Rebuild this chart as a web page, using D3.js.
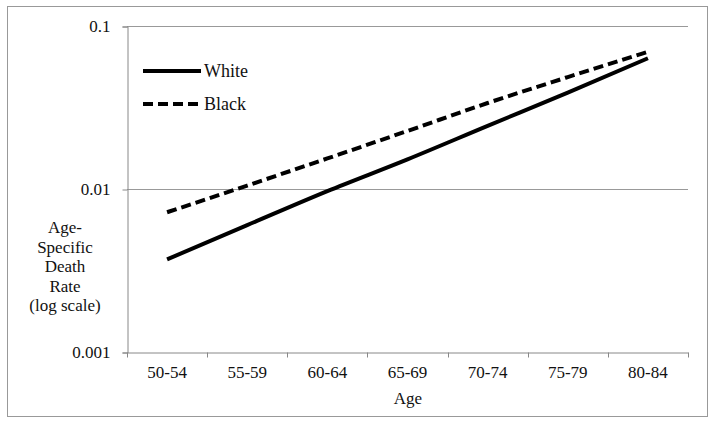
<!DOCTYPE html>
<html>
<head>
<meta charset="utf-8">
<script src="https://cdn.jsdelivr.net/npm/d3@7"></script>
<style>
  body { margin: 0; background: #fff; }
  svg text { font-family: "Liberation Serif", serif; }
</style>
</head>
<body>
<svg id="chart" width="714" height="425"></svg>
<script>
var ages = ["50-54", "55-59", "60-64", "65-69", "70-74", "75-79", "80-84"];
var white = [0.0037, 0.0060, 0.0097, 0.0152, 0.0244, 0.0390, 0.0634];
var black = [0.0072, 0.0105, 0.0154, 0.0227, 0.0337, 0.0486, 0.0695];
var yTicks = [0.001, 0.01, 0.1];
var yTitle = ["Age-", "Specific", "Death", "Rate", "(log scale)"];

var FONT = "Liberation Serif";
var DASH = "10,5";
var svg = d3.select("#chart").attr("font-family", FONT);

svg.append("rect")
    .attr("x", 7.5).attr("y", 6.5)
    .attr("width", 700).attr("height", 410)
    .attr("fill", "none")
    .attr("stroke", "#999");

var x = d3.scaleBand().domain(ages).range([127, 688]);
var y = d3.scaleLog().domain([0.001, 0.1]).range([352, 26]);

// gridlines
svg.append("g").selectAll("line")
    .data(yTicks.slice(1))
    .enter().append("line")
    .attr("x1", 127).attr("x2", 688)
    .attr("y1", function(d) { return Math.round(y(d)) + 0.5; })
    .attr("y2", function(d) { return Math.round(y(d)) + 0.5; })
    .attr("stroke", "#999");

// y axis
var yAxis = svg.append("g")
    .attr("transform", "translate(127.5,0.5)")
    .call(d3.axisLeft(y).tickValues(yTicks).tickSize(5).tickPadding(12)
        .tickFormat(function(d) { return String(d); }));
yAxis.attr("font-family", FONT).attr("font-size", 17);
yAxis.select(".domain").attr("stroke", "#888");
yAxis.selectAll(".tick line").attr("stroke", "#888");
yAxis.selectAll("text").attr("fill", "#111");

// x axis
var xAxis = svg.append("g")
    .attr("transform", "translate(0,352.5)")
    .call(d3.axisBottom(x).tickSize(0).tickPadding(13));
xAxis.attr("font-family", FONT).attr("font-size", 17);
xAxis.select(".domain").attr("stroke", "#888");
xAxis.selectAll("text").attr("fill", "#111");
xAxis.selectAll(".bound")
    .data(d3.range(ages.length + 1))
    .enter().append("line")
    .attr("x1", function(i) { return Math.round(127 + i * x.bandwidth()) + 0.5; })
    .attr("x2", function(i) { return Math.round(127 + i * x.bandwidth()) + 0.5; })
    .attr("y1", 0).attr("y2", 5)
    .attr("stroke", "#888");

svg.append("text")
    .attr("x", 408).attr("y", 404)
    .attr("text-anchor", "middle")
    .attr("fill", "#111")
    .attr("font-size", 17)
    .text("Age");

svg.append("g").selectAll("text")
    .data(yTitle)
    .enter().append("text")
    .attr("x", 65)
    .attr("y", function(d, i) { return 233 + i * 19.5; })
    .attr("text-anchor", "middle")
    .attr("fill", "#111")
    .attr("font-size", 17)
    .text(function(d) { return d; });

var line = d3.line()
    .x(function(d, i) { return x(ages[i]) + x.bandwidth() / 2; })
    .y(function(d) { return y(d); })
    .curve(d3.curveMonotoneX);

svg.append("path")
    .datum(white)
    .attr("d", line)
    .attr("fill", "none")
    .attr("stroke", "#000")
    .attr("stroke-width", 4);

svg.append("path")
    .datum(black)
    .attr("d", line)
    .attr("fill", "none")
    .attr("stroke", "#000")
    .attr("stroke-width", 4)
    .attr("stroke-dasharray", DASH);

// legend
var legend = svg.append("g");
[{ name: "White", dash: null, y: 71 }, { name: "Black", dash: DASH, y: 104 }].forEach(function(s) {
    legend.append("line")
        .attr("x1", 143).attr("x2", 201)
        .attr("y1", s.y).attr("y2", s.y)
        .attr("stroke", "#000")
        .attr("stroke-width", 4)
        .attr("stroke-dasharray", s.dash);
    legend.append("text")
        .attr("x", 204).attr("y", s.y + 6)
        .attr("fill", "#111")
        .attr("font-size", 18)
        .text(s.name);
});
</script>
</body>
</html>
